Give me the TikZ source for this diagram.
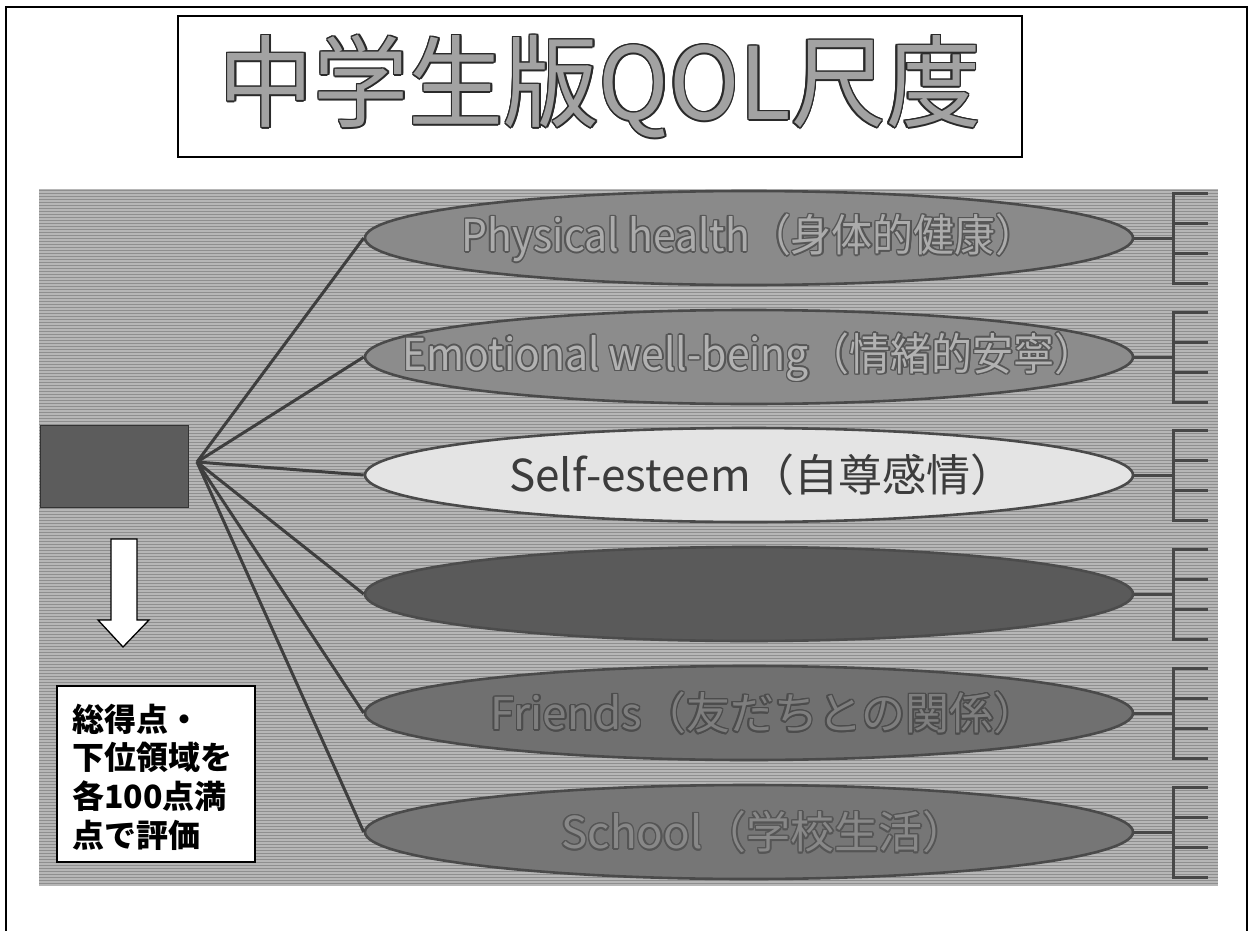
\documentclass[tikz,border=0pt]{standalone}
\usepackage{fontspec}
\newfontfamily\jp{Noto Sans CJK JP}
\usetikzlibrary{shapes.geometric,calc}
\definecolor{panelbg}{HTML}{B6B6B6}
\definecolor{panelstripe}{HTML}{8E8E8E}
\definecolor{ellline}{HTML}{4A4A4A}
\definecolor{spokec}{HTML}{3E3E3E}
\definecolor{brkc}{HTML}{474747}
\definecolor{darkfill}{HTML}{5C5C5C}
\definecolor{rectline}{HTML}{333333}
\definecolor{titlefill}{HTML}{A2A2A2}
\definecolor{titleline}{HTML}{2A2A2A}
\definecolor{eAfill}{HTML}{8A8A8A}
\definecolor{eAtext}{HTML}{ABABAB}
\definecolor{eAline}{HTML}{565656}
\definecolor{eBfill}{HTML}{8C8C8C}
\definecolor{eBtext}{HTML}{B2B2B2}
\definecolor{eCfill}{HTML}{E4E4E4}
\definecolor{eCtext}{HTML}{3C3C3C}
\definecolor{eDfill}{HTML}{5A5A5A}
\definecolor{eEfill}{HTML}{707070}
\definecolor{eEtext}{HTML}{7E7E7E}
\definecolor{eEline}{HTML}{4C4C4C}
\definecolor{eFfill}{HTML}{767676}
\definecolor{eFtext}{HTML}{888888}
\definecolor{eFline}{HTML}{555555}
\newcommand\embtext[6]{%
  \foreach \ang in {0,30,...,330}{\node[#1,text=#5] (#2o\ang) at ($(#3)+(\ang:1.5)$) {#6};}%
  \node[#1,text=#4] (#2) at (#3) {#6};}
\begin{document}
\begin{tikzpicture}[x=1pt,y=-1pt,
  ell/.style={ellipse,minimum width=768pt,minimum height=94pt,inner sep=0pt,draw=ellline,line width=2.6pt},
  spoke/.style={draw=spokec,line width=3pt},
  brk/.style={draw=brkc,line width=3pt},
  etext/.style={font=\jp\fontsize{44}{50}\selectfont,inner sep=0pt},
  ttext/.style={font=\jp\fontsize{100}{110}\selectfont,inner sep=0pt},
  btext/.style={font=\jp\bfseries\fontsize{32}{38}\selectfont,inner sep=0pt,anchor=base west,text=black},
]
\useasboundingbox (0,0) rectangle (1250,931);
\fill[white] (0,0) rectangle (1250,931);
% outer frame
\draw[black,line width=1.8pt] (6,935) -- (6,7) -- (1247,7) -- (1247,935);
% title
\node[draw=black,line width=1.5pt,fill=white,minimum width=844pt,minimum height=141pt,inner sep=0pt] (tbox) at (600,86.5) {};
\embtext{ttext}{title}{tbox.center}{titlefill}{titleline}{\scalebox{0.95}[1]{中学生版QOL尺度}}
% panel
\fill[panelbg] (39,189) rectangle (1218,886);
\foreach \yy in {190,193,...,885} \draw[panelstripe,line width=0.9pt] (39,\yy) -- (1218,\yy);
% total score box
\node[draw=rectline,line width=1pt,fill=darkfill,minimum width=148pt,minimum height=82pt,inner sep=0pt] (total) at (114,466) {};
\coordinate (hub) at (197,462);
% ellipses
\node[ell,fill=eAfill] (e1) at (749,238) {};
\node[ell,fill=eBfill] (e2) at (749,357) {};
\node[ell,fill=eCfill,draw=ellline] (e3) at (749,475) {};
\node[ell,fill=eDfill,draw=eDfill!85!black] (e4) at (749,594) {};
\node[ell,fill=eEfill] (e5) at (749,713) {};
\node[ell,fill=eFfill] (e6) at (749,832) {};
\embtext{etext}{t1}{e1.center}{eAtext}{eAline}{\scalebox{0.93}[1]{Physical health（身体的健康）}}
\embtext{etext}{t2}{e2.center}{eBtext}{eAline}{\scalebox{0.93}[1]{Emotional well-being（情緒的安寧）}}
\node[etext,text=eCtext] (t3) at ($(e3.center)+(13,0)$) {Self-esteem（自尊感情）};
\embtext{etext}{t5}{$(e5.center)+(15,0)$}{eEtext}{eEline}{Friends（友だちとの関係）}
\embtext{etext}{t6}{$(e6.center)+(15,0)$}{eFtext}{eFline}{School（学校生活）}
% spokes
\foreach \i in {1,...,6} \draw[spoke] (hub) -- (e\i.west);
% brackets
\foreach \i/\cy in {1/238,2/357,3/475,4/594,5/713,6/832}{
  \coordinate (b\i) at (1173,\cy);
  \draw[brk] (e\i.east) -- (b\i);
  \draw[brk] (1208,\cy-45) -- (1173,\cy-45) -- (1173,\cy+45) -- (1208,\cy+45);
  \draw[brk] (1173,\cy-15) -- (1208,\cy-15);
  \draw[brk] (1173,\cy+15) -- (1208,\cy+15);
}
% arrow
\draw[fill=white,draw=black,line width=1.3pt,line join=miter] (111,539) -- (137,539) -- (137,620) -- (149,620) -- (123,647) -- (98,620) -- (111,620) -- cycle;
% note box
\node[draw=black,line width=1.5pt,fill=white,minimum width=198pt,minimum height=176pt,inner sep=0pt] (note) at (156,774) {};
\node[btext] (n1) at (72,731) {総得点・};
\node[btext] (n2) at (72,769) {下位領域を};
\node[btext] (n3) at (72,808) {各100点満};
\node[btext] (n4) at (72,847) {点で評価};
\end{tikzpicture}
\end{document}
